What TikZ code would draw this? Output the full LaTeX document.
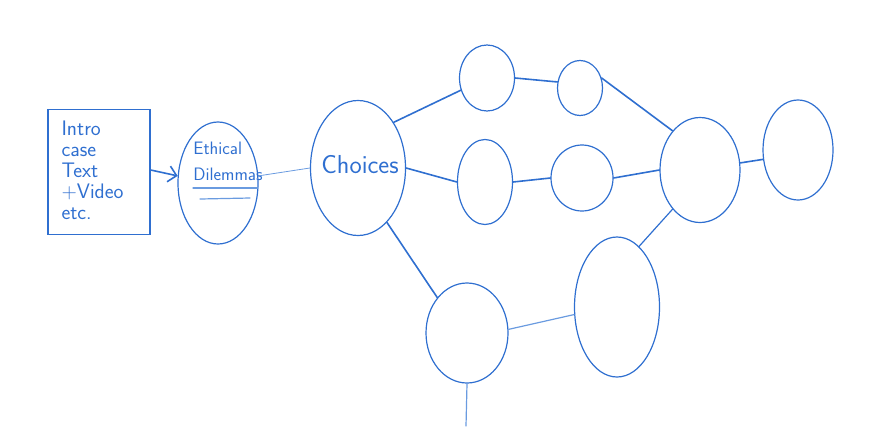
\documentclass[tikz,border=0pt]{standalone}
\usetikzlibrary{arrows.meta, shapes.geometric}
\definecolor{MBlue}{HTML}{2F6FD0}
\definecolor{LBlue}{HTML}{6A9BE0}

\begin{document}
\begin{tikzpicture}[x=1pt, y=-1pt,
    blob/.style={draw=MBlue, line width=1.2pt, ellipse, inner sep=0pt},
    link/.style={draw=MBlue, line width=1.6pt, line cap=round},
    thinlink/.style={draw=LBlue, line width=0.8pt, line cap=round},
    hand/.style={text=MBlue, font=\sffamily\fontsize{21}{21}\selectfont, align=left}]
\useasboundingbox (0,0) rectangle (882,426);

% case box and dilemma
\node[draw=MBlue, line width=1.4pt, minimum width=102pt, minimum height=125pt] (intro) at (99,172) {};
\node[hand, anchor=west] (introtext) at (58,170) {Intro\\case\\Text\\+Video\\etc.};
\node[blob, minimum width=80pt, minimum height=122pt] (eth) at (218,183) {};
\node[hand, font=\sffamily\fontsize{18}{26}\selectfont] (ethtext) at (228,161) {Ethical\\Dilemmas};
\draw[thinlink, line width=1.2pt] (193,188) -- (258,188);
\draw[thinlink, line width=1.2pt] (200,199) -- (250,198);

% choices
\node[blob, minimum width=95pt, minimum height=135pt] (ch) at (358,168) {};
\node[hand, font=\sffamily\fontsize{26}{26}\selectfont] (chtext) at (360,165) {Choices};

% paths
\node[blob, minimum width=55pt, minimum height=66pt] (a) at (487,78) {};
\node[blob, minimum width=45pt, minimum height=55pt] (b) at (580,88) {};
\node[blob, minimum width=55pt, minimum height=85pt] (d) at (485,182) {};
\node[blob, minimum width=62pt, minimum height=66pt] (e) at (582,178) {};
\node[blob, minimum width=80pt, minimum height=105pt] (c) at (700,170) {};
\node[blob, minimum width=70pt, minimum height=100pt] (f) at (798,150) {};
\node[blob, minimum width=82pt, minimum height=100pt] (g) at (467,333) {};
\node[blob, minimum width=85pt, minimum height=140pt] (h) at (617,307) {};
\coordinate (gend) at (466,426);

\draw[link, -{Straight Barb[length=8pt, width=16pt]}] (intro.east |- 0,170) -- (eth.170);
\draw[thinlink] (eth.10) -- (ch.west);
\draw[link] (ch.52) -- (a.205);
\draw[link] (a.east) -- (b.165);
\draw[link] (b.25) -- (c.125);
\draw[link] (ch.east) -- (d.west);
\draw[link] (d.east) -- (e.west);
\draw[link] (e.east) -- (c.west);
\draw[link] (c.10) -- (f.195);
\draw[link] (ch.-62) -- (g.130);
\draw[thinlink, line width=1.2pt] (g.5) -- (h.190);
\draw[link, line width=1.2pt] (h.70) -- (c.235);
\draw[thinlink, line width=1.2pt] (g.south) -- (gend);

\end{tikzpicture}
\end{document}
